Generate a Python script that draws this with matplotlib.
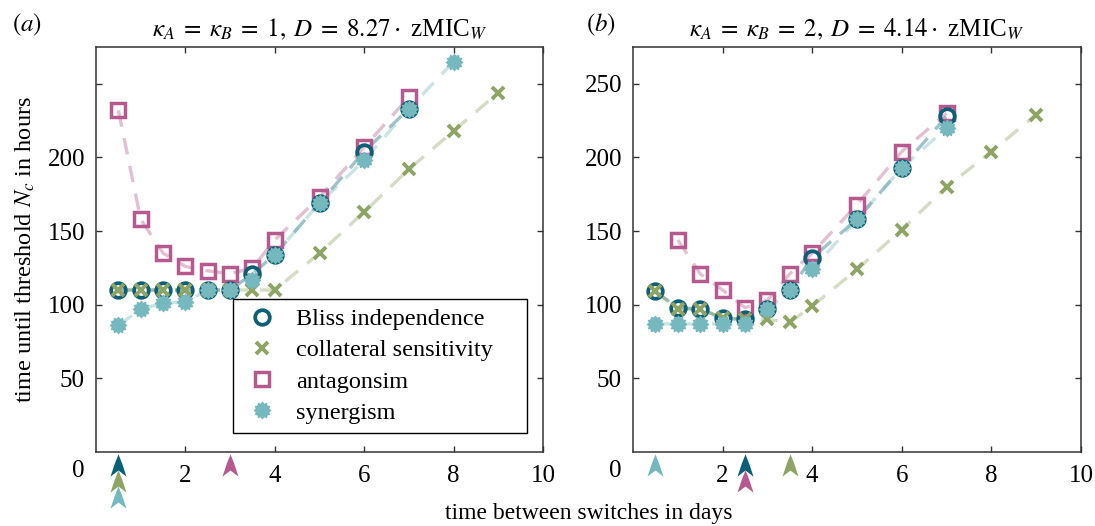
import numpy as np
import matplotlib
matplotlib.use("Agg")
import matplotlib.pyplot as plt
from matplotlib.path import Path
from matplotlib.transforms import blended_transform_factory

plt.rcParams['font.family'] = 'serif'
plt.rcParams['font.serif'] = ['Liberation Serif', 'DejaVu Serif']
plt.rcParams['mathtext.fontset'] = 'stix'

# ---------------- data ----------------
x_short = [0.5, 1, 1.5, 2, 2.5, 3, 3.5, 4, 5, 6, 7]
x_long = [0.5, 1, 1.5, 2, 2.5, 3, 3.5, 4, 5, 6, 7, 8, 9]
x_syn_a = [0.5, 1, 1.5, 2, 2.5, 3, 3.5, 4, 5, 6, 7, 8]
x_ant_b = [1, 1.5, 2, 2.5, 3, 3.5, 4, 5, 6, 7]

bliss_a = [110, 110, 110, 110, 110, 110, 121, 134, 169, 204, 233]
coll_a = [110, 110, 110, 110, 110, 110, 110, 110, 135, 163, 192, 218, 244]
ant_a = [232, 158, 135, 126, 123, 121, 125, 144, 173, 207, 241]
syn_a = [86, 97, 101, 102, 110, 110, 117, 134, 169, 198, 233, 265]

bliss_b = [109, 98, 97, 91, 90, 97, 110, 132, 158, 193, 228]
coll_b = [109, 97, 97, 91, 90, 90, 88, 99, 124, 151, 180, 204, 229]
ant_b = [144, 121, 110, 98, 103, 121, 135, 168, 204, 230]
syn_b = [87, 87, 87, 87, 87, 97, 110, 124, 158, 193, 220]

labels = ['Bliss independence', 'collateral sensitivity', 'antagonsim', 'synergism']
titles = [r'$\kappa_A\;=\;\kappa_B\;=\;1,\; D\;=\;8.27\cdot$ zMIC$_W$',
          r'$\kappa_A\;=\;\kappa_B\;=\;2,\; D\;=\;4.14\cdot$ zMIC$_W$']
panel_tags = [r'$(a)$', r'$(b)$']
xticks = [2, 4, 6, 8, 10]

# optimum arrows: (x, row, series index)
arrows_a = [(0.5, 0, 0), (0.5, 1, 1), (0.5, 2, 3), (3.0, 0, 2)]
arrows_b = [(0.5, 0, 3), (2.5, 0, 0), (2.5, 1, 2), (3.5, 0, 1)]

colors = ['#0c5f74', '#8ea465', '#b6598f', '#75b8be']

# ---------------- markers ----------------
def gear_marker(n=12, r_in=0.78):
    verts = []
    for i in range(2 * n):
        ang = np.pi / 2 + i * np.pi / n
        r = 1.0 if i % 2 == 0 else r_in
        verts.append((r * np.cos(ang), r * np.sin(ang)))
    verts.append(verts[0])
    codes = [Path.MOVETO] + [Path.LINETO] * (2 * n - 1) + [Path.CLOSEPOLY]
    return Path(verts, codes)

arrow_verts = [(0, 1), (0.32, 0.2), (0.72, -1), (0, -0.45), (-0.72, -1), (-0.32, 0.2), (0, 1)]
arrow_path = Path(arrow_verts, [Path.MOVETO] + [Path.LINETO] * 5 + [Path.CLOSEPOLY])
gear = gear_marker()

W, H = 1095, 526
fig = plt.figure(figsize=(W / 100, H / 100), dpi=100)

axes_px = [(96, 543), (633, 1081)]
top_px, bot_px = 47, 452

data = [
    dict(xs=[x_short, x_long, x_short, x_syn_a], ys=[bliss_a, coll_a, ant_a, syn_a], arrows=arrows_a),
    dict(xs=[x_short, x_long, x_ant_b, x_short], ys=[bliss_b, coll_b, ant_b, syn_b], arrows=arrows_b),
]

row_px = [465, 481, 497]

for k, (l, r) in enumerate(axes_px):
    ax = fig.add_axes([l / W, 1 - bot_px / H, (r - l) / W, (bot_px - top_px) / H])
    d = data[k]
    # dashed lines
    for i in range(4):
        ax.plot(d['xs'][i], d['ys'][i], color=colors[i], lw=2.4, alpha=0.38,
                dashes=(5, 3.5), zorder=1)
    # markers
    h0, = ax.plot(d['xs'][0], d['ys'][0], 'o', ms=10.5, mfc='none', mec=colors[0], mew=2.7, zorder=3, ls='none')
    h2, = ax.plot(d['xs'][2], d['ys'][2], 's', ms=10.5, mfc='none', mec=colors[2], mew=2.5, zorder=2, ls='none')
    h1, = ax.plot(d['xs'][1], d['ys'][1], 'x', ms=8, mec=colors[1], mew=2.8, zorder=4, ls='none')
    h3, = ax.plot(d['xs'][3], d['ys'][3], marker=gear, ms=13, mfc=colors[3], mec='none', zorder=5, ls='none')

    ax.set_xlim(0, 10)
    ax.set_ylim(0, 275)
    ax.set_xticks(xticks)
    ax.set_xticklabels([str(t) for t in xticks])
    ax.set_yticks([50, 100, 150, 200, 250])
    if k == 0:
        ax.set_yticklabels(['50', '100', '150', '200', ''])
    else:
        ax.set_yticklabels(['50', '100', '150', '200', '250'])
    ax.tick_params(direction='in', length=4, width=1, top=True, right=True,
                   labelsize=18, color='#333333')
    ax.tick_params(axis='x', pad=9)
    ax.tick_params(axis='y', pad=8)
    for s in ax.spines.values():
        s.set_linewidth(1.1)
        s.set_color('#333333')

    ax.set_title(titles[k], fontsize=18, pad=8)

    # "0" label at the corner
    ax.annotate('0', xy=(0, 0), xycoords='axes fraction', xytext=(-8.5, -13.5),
                textcoords='offset points', ha='right', va='center', fontsize=18)

    # arrows below axis
    for (xa, row, si) in d['arrows']:
        ya = (bot_px - row_px[row]) / (bot_px - top_px)
        trans = blended_transform_factory(ax.transData, ax.transAxes)
        ax.plot([xa], [ya], marker=arrow_path, ms=16, mfc=colors[si], mec='none',
                transform=trans, clip_on=False, zorder=6, ls='none')

    if k == 0:
        leg = ax.legend([h0, h1, h2, h3], labels, loc='lower left',
                        bbox_to_anchor=((233 - l) / (r - l), (bot_px - 433) / (bot_px - top_px),
                                        (527 - 233) / (r - l), (433 - 299) / (bot_px - top_px)),
                        mode='expand', fontsize=17.5, frameon=True, fancybox=False,
                        edgecolor='black', framealpha=1, borderpad=0.38, borderaxespad=0,
                        labelspacing=0.38, handletextpad=0.6, handlelength=1.6)
        leg.get_frame().set_linewidth(1.0)

fig.text(12 / W, 1 - 25 / H, panel_tags[0], fontsize=18, va='center', ha='left')
fig.text(586 / W, 1 - 25 / H, panel_tags[1], fontsize=18, va='center', ha='left')
fig.text(25 / W, 1 - 250 / H, r'time until threshold $N_c$ in hours', rotation=90,
         fontsize=17.5, va='center', ha='center')
fig.text(588.5 / W, 1 - 514 / H, 'time between switches in days', fontsize=17,
         va='center', ha='center')

fig.savefig('out.png', dpi=100)
